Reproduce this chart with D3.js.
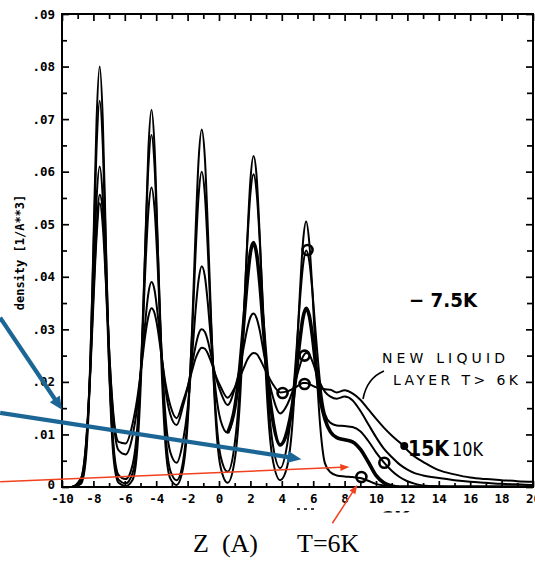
<!DOCTYPE html>
<html>
<head>
<meta charset="utf-8">
<script src="https://cdn.jsdelivr.net/npm/d3@7"></script>
<style>
  body { margin: 0; background: #fff; }
  svg { display: block; }
</style>
</head>
<body>
<script>
// Sampling positions along z (Angstrom), shared by every profile
const zGrid = [-10, -9.4,
  -8.8, -8.5, -8.2, -8.0, -7.8, -7.6, -7.4, -7.2, -7.0, -6.7, -6.4,
  -5.95,
  -5.5, -5.2, -4.9, -4.7, -4.5, -4.3, -4.1, -3.9, -3.7, -3.4, -3.1,
  -2.7,
  -2.3, -2.0, -1.7, -1.5, -1.3, -1.1, -0.9, -0.7, -0.5, -0.2, 0.1,
  0.55,
  1.0, 1.3, 1.6, 1.8, 2.0, 2.2, 2.4, 2.6, 2.8, 3.1, 3.4,
  3.9,
  4.35, 4.65, 4.95, 5.15, 5.35, 5.55, 5.75, 5.95, 6.15, 6.45, 6.75,
  7.1, 7.5, 8.0, 8.5, 9.0, 9.5, 10.0, 10.5, 11.0, 11.5, 12.0, 12.5, 13.0,
  14.0, 15.0, 16.0, 17.0, 18.0, 19.0, 20.0];

// Density profiles (1/A^3), coldest (6K) first
const rho6K = [0, 0,
  0.0006, 0.0048, 0.0230, 0.0460, 0.0697, 0.0800, 0.0697, 0.0460, 0.0232, 0.0050, 0.0008,
  0.0002,
  0.0014, 0.0074, 0.0260, 0.0456, 0.0641, 0.0718, 0.0643, 0.0458, 0.0262, 0.0076, 0.0016,
  0.0004,
  0.0034, 0.0120, 0.0313, 0.0480, 0.0622, 0.0680, 0.0626, 0.0484, 0.0317, 0.0124, 0.0038,
  0.0008,
  0.0051, 0.0147, 0.0327, 0.0470, 0.0584, 0.0630, 0.0589, 0.0474, 0.0332, 0.0152, 0.0056,
  0.0013,
  0.0040, 0.0110, 0.0252, 0.0369, 0.0466, 0.0505, 0.0465, 0.0373, 0.0256, 0.0115, 0.0045,
  0.0028, 0.0022, 0.0020, 0.0019, 0.0017, 0.0012, 0.0006, 0.0003, 0.0001, 0, 0, 0, 0,
  0, 0, 0, 0, 0, 0, 0];

const rhoB = [0, 0,
  0.0008, 0.0058, 0.0238, 0.0444, 0.0645, 0.0735, 0.0649, 0.0448, 0.0242, 0.0064, 0.0014,
  0.0007,
  0.0027, 0.0097, 0.0280, 0.0454, 0.0608, 0.0670, 0.0608, 0.0456, 0.0282, 0.0101, 0.0031,
  0.0013,
  0.0047, 0.0132, 0.0300, 0.0439, 0.0554, 0.0600, 0.0556, 0.0443, 0.0306, 0.0140, 0.0059,
  0.0029,
  0.0082, 0.0178, 0.0341, 0.0464, 0.0558, 0.0595, 0.0559, 0.0466, 0.0344, 0.0182, 0.0087,
  0.0036,
  0.0082, 0.0152, 0.0267, 0.0353, 0.0421, 0.0450, 0.0430, 0.0372, 0.0296, 0.0195, 0.0139,
  0.0122, 0.0117, 0.0116, 0.0114, 0.0106, 0.0088, 0.0066, 0.0047, 0.0031, 0.0019, 0.0011, 0.0006, 0.0003,
  0.0001, 0, 0, 0, 0, 0, 0];

const rho7K5 = [0, 0,
  0.0010, 0.0064, 0.0223, 0.0390, 0.0547, 0.0610, 0.0548, 0.0393, 0.0228, 0.0073, 0.0023,
  0.0015,
  0.0043, 0.0115, 0.0272, 0.0409, 0.0524, 0.0570, 0.0527, 0.0416, 0.0283, 0.0132, 0.0066,
  0.0046,
  0.0086, 0.0149, 0.0254, 0.0333, 0.0394, 0.0420, 0.0401, 0.0346, 0.0275, 0.0180, 0.0127,
  0.0103,
  0.0150, 0.0219, 0.0322, 0.0393, 0.0446, 0.0465, 0.0443, 0.0388, 0.0313, 0.0206, 0.0133,
  0.0080,
  0.0107, 0.0151, 0.0225, 0.0279, 0.0322, 0.0340, 0.0326, 0.0287, 0.0235, 0.0167, 0.0129,
  0.0105, 0.0094, 0.0090, 0.0086, 0.0072, 0.0048, 0.0022, 0.0008, 0.0002, 0, 0, 0, 0,
  0, 0, 0, 0, 0, 0, 0];

const rho10K = [0, 0,
  0.0016, 0.0073, 0.0222, 0.0364, 0.0490, 0.0556, 0.0524, 0.0403, 0.0264, 0.0121, 0.0070,
  0.0062,
  0.0098, 0.0154, 0.0246, 0.0313, 0.0368, 0.0390, 0.0374, 0.0327, 0.0266, 0.0184, 0.0138,
  0.0118,
  0.0153, 0.0189, 0.0236, 0.0267, 0.0291, 0.0300, 0.0295, 0.0277, 0.0250, 0.0209, 0.0181,
  0.0156,
  0.0187, 0.0222, 0.0270, 0.0301, 0.0323, 0.0330, 0.0321, 0.0297, 0.0264, 0.0214, 0.0175,
  0.0140,
  0.0157, 0.0179, 0.0210, 0.0231, 0.0248, 0.0255, 0.0252, 0.0239, 0.0222, 0.0197, 0.0181,
  0.0172, 0.0168, 0.0172, 0.0165, 0.0145, 0.0120, 0.0095, 0.0073, 0.0057, 0.0043, 0.0033, 0.0026, 0.0022,
  0.0017, 0.0013, 0.0010, 0.0008, 0.0006, 0.0005, 0.0004];

const rho15K = [0, 0,
  0.0015, 0.0070, 0.0214, 0.0350, 0.0475, 0.0540, 0.0496, 0.0386, 0.0261, 0.0131, 0.0086,
  0.0083,
  0.0121, 0.0170, 0.0239, 0.0288, 0.0324, 0.0340, 0.0330, 0.0300, 0.0257, 0.0196, 0.0155,
  0.0131,
  0.0162, 0.0190, 0.0223, 0.0244, 0.0258, 0.0265, 0.0263, 0.0253, 0.0238, 0.0211, 0.0191,
  0.0170,
  0.0189, 0.0207, 0.0228, 0.0242, 0.0251, 0.0255, 0.0253, 0.0244, 0.0232, 0.0213, 0.0197,
  0.0180,
  0.0182, 0.0186, 0.0191, 0.0195, 0.0198, 0.0198, 0.0196, 0.0193, 0.0190, 0.0188, 0.0186,
  0.0185, 0.0180, 0.0184, 0.0178, 0.0166, 0.0148, 0.0130, 0.0113, 0.0098, 0.0085, 0.0070, 0.0057, 0.0048,
  0.0032, 0.0024, 0.0018, 0.0015, 0.0013, 0.0011, 0.0010];

// Axis ticks
const xTickVals = [-10, -8, -6, -4, -2, 0, 2, 4, 6, 8, 10, 12, 14, 16, 18, 20];
const xTickLabels = ["-10", "-8", "-6", "-4", "-2", "0", "2", "4", "6", "8", "10", "12", "14", "16", "18", "20"];
const yTickVals = [0, 0.01, 0.02, 0.03, 0.04, 0.05, 0.06, 0.07, 0.08, 0.09];
const yTickLabels = ["0", ".01", ".02", ".03", ".04", ".05", ".06", ".07", ".08", ".09"];

// Hand-drawn circle markers and the filled 15K dot, in (z, density)
const circleMarks = [[4.05, 0.0179], [5.45, 0.0196], [5.45, 0.0250], [5.64, 0.0451], [9.07, 0.0019], [10.53, 0.0046]];
const dotMark = [11.80, 0.0078];

const W = 535, H = 561;
const svg = d3.select("body").append("svg").attr("width", W).attr("height", H);
svg.append("rect").attr("width", W).attr("height", H).attr("fill", "#fff");

const x = d3.scaleLinear().domain([-10, 20]).range([62, 533]);
const y = d3.scaleLinear().domain([0, 0.09]).range([487, 14]);

const plotFont = "'DejaVu Sans Mono', monospace";

// clips: plot area for the profiles, a strip below the axis for the half-hidden note
const defs = svg.append("defs");
defs.append("clipPath").attr("id", "plotClip")
  .append("rect").attr("x", x(-10)).attr("y", y(0.09)).attr("width", x(20) - x(-10)).attr("height", y(0) - y(0.09));
defs.append("clipPath").attr("id", "belowClip")
  .append("rect").attr("x", 370).attr("y", 500).attr("width", 60).attr("height", 12.5);

// --- axes ---
function styleAxis(g) {
  g.select(".domain").remove();
  g.selectAll("line").attr("stroke", "#000").attr("stroke-width", 1.7);
  g.selectAll("text").attr("font-family", plotFont).attr("font-weight", "bold")
    .attr("font-size", 12.5).attr("fill", "#000");
}

const minorX = d3.range(-9, 20, 2);
const minorY = d3.range(0.005, 0.09, 0.01);

svg.append("g").attr("transform", `translate(0,${y(0)})`)
  .call(d3.axisBottom(x).tickValues(xTickVals).tickFormat((d, i) => xTickLabels[i])
    .tickSizeInner(-6).tickSizeOuter(0).tickPadding(7))
  .call(styleAxis);
svg.append("g").attr("transform", `translate(0,${y(0)})`)
  .call(d3.axisBottom(x).tickValues(minorX).tickFormat("").tickSizeInner(-4).tickSizeOuter(0))
  .call(styleAxis);

svg.append("g").attr("transform", `translate(0,${y(0.09)})`)
  .call(d3.axisTop(x).tickValues(xTickVals).tickFormat("").tickSizeInner(-7).tickSizeOuter(0))
  .call(styleAxis);
svg.append("g").attr("transform", `translate(0,${y(0.09)})`)
  .call(d3.axisTop(x).tickValues(minorX).tickFormat("").tickSizeInner(-5).tickSizeOuter(0))
  .call(styleAxis);

const yAxisG = svg.append("g").attr("transform", `translate(${x(-10)},0)`)
  .call(d3.axisLeft(y).tickValues(yTickVals).tickFormat((d, i) => yTickLabels[i])
    .tickSizeInner(-7).tickSizeOuter(0).tickPadding(7))
  .call(styleAxis);
// lift the bottom "0" a touch so it clears the "-10" below it
yAxisG.selectAll(".tick").filter(d => d === 0).select("text").attr("dy", "0.1em");
svg.append("g").attr("transform", `translate(${x(-10)},0)`)
  .call(d3.axisLeft(y).tickValues(minorY).tickFormat("").tickSizeInner(-5).tickSizeOuter(0))
  .call(styleAxis);

svg.append("g").attr("transform", `translate(${x(20)},0)`)
  .call(d3.axisRight(y).tickValues(yTickVals).tickFormat("").tickSizeInner(-7).tickSizeOuter(0))
  .call(styleAxis);
svg.append("g").attr("transform", `translate(${x(20)},0)`)
  .call(d3.axisRight(y).tickValues(minorY).tickFormat("").tickSizeInner(-6).tickSizeOuter(0))
  .call(styleAxis);

// frame
svg.append("rect").attr("x", x(-10)).attr("y", y(0.09))
  .attr("width", x(20) - x(-10)).attr("height", y(0) - y(0.09))
  .attr("fill", "none").attr("stroke", "#000").attr("stroke-width", 2);

// y title
svg.append("text").attr("transform", `translate(20,${(y(0) + y(0.09)) / 2 + 2}) rotate(-90)`)
  .attr("text-anchor", "middle").attr("dominant-baseline", "central")
  .attr("font-family", plotFont).attr("font-weight", "bold").attr("font-size", 12)
  .text("density [1/A**3]");

// --- profiles ---
const line = d3.line().x(d => x(d[0])).y(d => y(d[1])).curve(d3.curveMonotoneX);
const toPts = arr => zGrid.map((z, i) => [z, arr[i]]);
const curves = svg.append("g").attr("clip-path", "url(#plotClip)")
  .attr("fill", "none").attr("stroke", "#000").attr("stroke-linejoin", "round");

[rho15K, rho10K, rho7K5, rhoB, rho6K].forEach(arr => {
  curves.append("path").attr("d", line(toPts(arr))).attr("stroke-width", 2);
});
// the 7.5K profile traced heavier beyond the third minimum
curves.append("path")
  .attr("d", line(toPts(rho7K5).filter(p => p[0] >= 0.55)))
  .attr("stroke-width", 3.6);

// --- hand annotations ---
const ann = svg.append("g");
circleMarks.forEach(c => {
  ann.append("circle").attr("cx", x(c[0])).attr("cy", y(c[1])).attr("r", 5)
    .attr("fill", "none").attr("stroke", "#000").attr("stroke-width", 2.6);
});
ann.append("circle").attr("cx", x(dotMark[0])).attr("cy", y(dotMark[1])).attr("r", 4).attr("fill", "#000");

const hand = "'DejaVu Sans', sans-serif";
ann.append("text").attr("x", 409).attr("y", 307).attr("font-family", hand).attr("font-weight", "bold")
  .attr("font-size", 20).attr("textLength", 68).attr("lengthAdjust", "spacingAndGlyphs").text("\u2212 7.5K");
ann.append("text").attr("x", 382).attr("y", 363).attr("font-family", hand)
  .attr("font-size", 14).attr("textLength", 123).attr("lengthAdjust", "spacing").text("NEW LIQUID");
ann.append("text").attr("x", 393).attr("y", 385).attr("font-family", hand)
  .attr("font-size", 14).attr("textLength", 125).attr("lengthAdjust", "spacing").text("LAYER T> 6K");
ann.append("path").attr("d", "M363,399 Q367,378 384,371").attr("fill", "none")
  .attr("stroke", "#000").attr("stroke-width", 1.6);
ann.append("text").attr("x", 408).attr("y", 456).attr("font-family", hand).attr("font-weight", "bold")
  .attr("font-size", 21).attr("textLength", 41).attr("lengthAdjust", "spacingAndGlyphs").text("15K");
ann.append("text").attr("x", 452).attr("y", 456).attr("font-family", hand).attr("font-weight", "normal")
  .attr("fill", "#000").attr("font-size", 20).attr("textLength", 31).attr("lengthAdjust", "spacingAndGlyphs").text("10K");
// partly hidden note below the axis
ann.append("text").attr("x", 380).attr("y", 525).attr("clip-path", "url(#belowClip)")
  .attr("font-family", hand).attr("font-weight", "bold").attr("font-size", 20).text("6K");
ann.append("line").attr("x1", 297).attr("x2", 314).attr("y1", 509).attr("y2", 509)
  .attr("stroke", "#000").attr("stroke-width", 1.4).attr("stroke-dasharray", "3,4");

// arrows
function arrow(p0, p1, color, w, hl, hw) {
  const a = [x(p0[0]), y(p0[1])], b = [x(p1[0]), y(p1[1])];
  const dx = b[0] - a[0], dy = b[1] - a[1], L = Math.hypot(dx, dy), ux = dx / L, uy = dy / L;
  const bx = b[0] - ux * hl, by = b[1] - uy * hl;
  ann.append("line").attr("x1", a[0]).attr("y1", a[1]).attr("x2", bx + ux).attr("y2", by + uy)
    .attr("stroke", color).attr("stroke-width", w);
  ann.append("polygon")
    .attr("points", `${b[0]},${b[1]} ${bx - uy * hw / 2},${by + ux * hw / 2} ${bx + uy * hw / 2},${by - ux * hw / 2}`)
    .attr("fill", color);
}
const blue = "#1c6696", red = "#f0421e";
arrow([-13.94, 0.0322], [-10.0, 0.0147], blue, 4.2, 13, 12);
arrow([-13.94, 0.0141], [5.25, 0.0053], blue, 4.2, 14, 12);
arrow([-13.94, 0.0010], [8.3, 0.0038], red, 1.5, 9, 7);
arrow([7.22, -0.0069], [8.81, 0.0004], red, 1.5, 9, 7);

// axis caption
const serif = "'Liberation Serif', 'Times New Roman', serif";
svg.append("text").attr("x", 193).attr("y", 552).attr("font-family", serif).attr("font-size", 26)
  .attr("xml:space", "preserve").text("Z  (A)");
svg.append("text").attr("x", 297).attr("y", 552).attr("font-family", serif).attr("font-size", 26)
  .text("T=6K");
</script>
</body>
</html>
